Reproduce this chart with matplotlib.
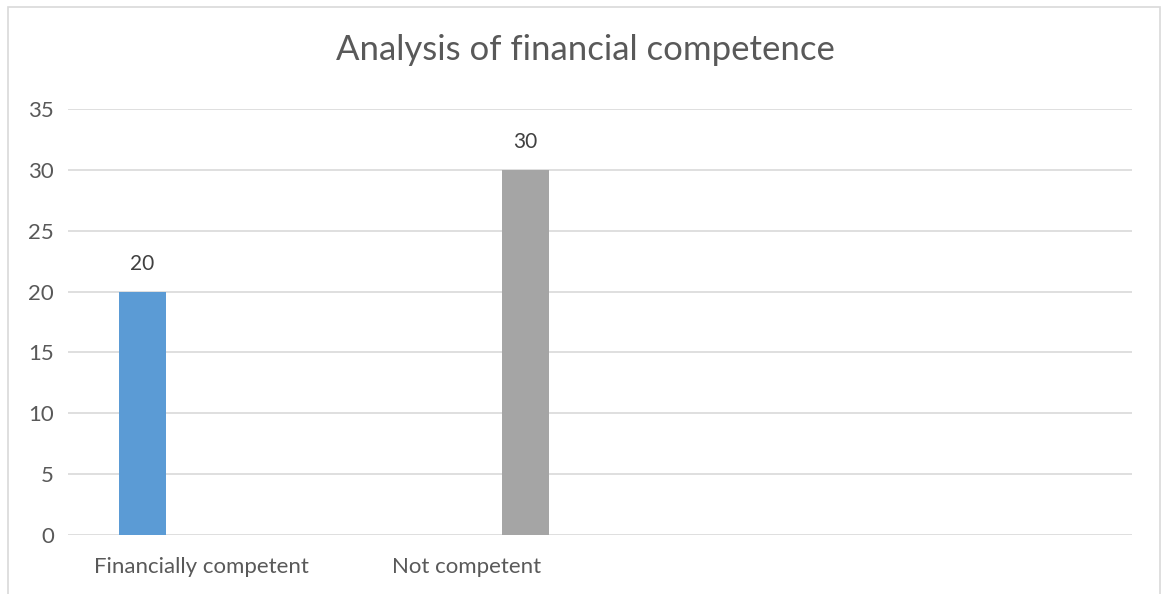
import numpy as np
import matplotlib
matplotlib.use("Agg")
import matplotlib.pyplot as plt
from matplotlib.patches import Rectangle

plt.rcParams['font.family'] = ['Lato', 'DejaVu Sans']

# Data
categories = ["Financially competent", "Not competent", "", ""]
competent_values = [20, np.nan, np.nan, np.nan]
not_competent_values = [np.nan, 30, np.nan, np.nan]
y_ticks = [0, 5, 10, 15, 20, 25, 30, 35]
title = "Analysis of financial competence"

text_color = "#595959"
grid_color = "#D9D9D9"

fig = plt.figure(figsize=(11.62, 5.94), dpi=100)
fig.patch.set_facecolor("white")

# outer chart border
fig.patches.append(Rectangle((8 / 1162, -0.05), (1160 - 8) / 1162, 1.05 - 7 / 594,
                             transform=fig.transFigure, fill=False,
                             edgecolor=grid_color, linewidth=1.2))

ax = fig.add_axes([68 / 1162, 59 / 594, (1132 - 68) / 1162, (535 - 109) / 594])

x = np.arange(len(categories))
bar_w = 0.175
offset = 0.22
b1 = ax.bar(x - offset, competent_values, width=bar_w, color="#5B9BD5", zorder=3)
b2 = ax.bar(x + offset, not_competent_values, width=bar_w, color="#A5A5A5", zorder=3)

for bars, vals in ((b1, competent_values), (b2, not_competent_values)):
    for rect, v in zip(bars, vals):
        if np.isnan(v):
            continue
        ax.annotate(f"{v:g}", (rect.get_x() + rect.get_width() / 2, v),
                    xytext=(0, 13), textcoords="offset points",
                    ha="center", va="bottom", fontsize=15, color="#404040")

ax.set_xlim(-0.5, len(categories) - 0.5)
ax.set_ylim(0, 35)
ax.set_yticks(y_ticks)
ax.set_xticks(x)
ax.set_xticklabels(categories)
ax.yaxis.grid(True, color=grid_color, linewidth=1.2, zorder=0)
ax.set_axisbelow(True)
for s in ax.spines.values():
    s.set_visible(False)
ax.tick_params(axis="both", length=0, labelsize=16, colors=text_color)
ax.tick_params(axis="y", pad=10)
ax.tick_params(axis="x", pad=16)

fig.text(585 / 1162, 1 - 50 / 594, title, ha="center", va="center",
         fontsize=25, color=text_color)

fig.savefig("out.png", dpi=100, facecolor="white")
